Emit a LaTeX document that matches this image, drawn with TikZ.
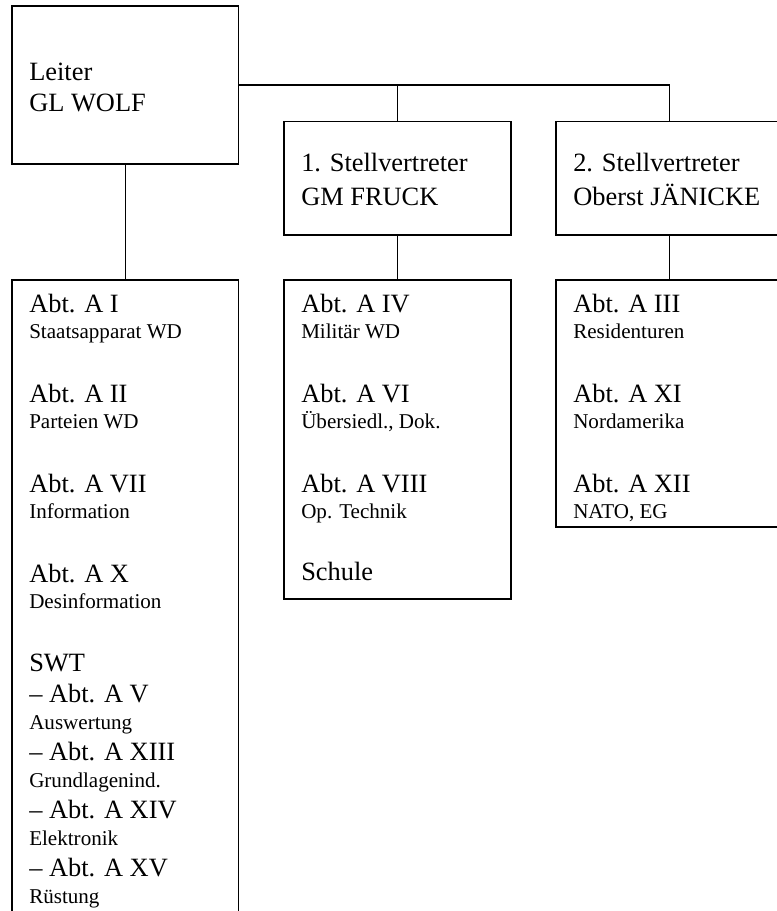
\documentclass[tikz,border=0pt]{standalone}
\usepackage{fontspec}
\newfontfamily\serifx{Liberation Serif}
\tikzset{
  box/.style={draw, line width=0.9pt, inner sep=0pt, outer sep=0pt},
  conn/.style={draw, line width=0.9pt},
  bigt/.style={anchor=base west, inner sep=0pt, font=\serifx\fontsize{19.8pt}{22pt}\selectfont},
  smallt/.style={anchor=base west, inner sep=0pt, font=\serifx\fontsize{15.8pt}{18pt}\selectfont}
}
\begin{document}
\begin{tikzpicture}[x=0.75pt,y=-0.75pt]
\useasboundingbox (0,0) rectangle (777,911);
\clip (0,0) rectangle (777,911);
% boxes
\node[box, minimum width=226.5*0.75pt, minimum height=158*0.75pt] (leiter) at (125.25,85) {};
\node[box, minimum width=227*0.75pt, minimum height=113.3*0.75pt] (dep1) at (397.5,178.35) {};
\node[box, minimum width=227*0.75pt, minimum height=113.3*0.75pt] (dep2) at (669.5,178.35) {};
\node[box, minimum width=226.5*0.75pt, minimum height=660*0.75pt] (listL) at (125.25,610) {};
\node[box, minimum width=227*0.75pt, minimum height=319*0.75pt] (listM) at (397.5,439.5) {};
\node[box, minimum width=227*0.75pt, minimum height=247*0.75pt] (listR) at (669.5,403.5) {};
% connectors
\draw[conn] (leiter.east) -| (dep2.north);
\draw[conn] (dep1.north) -- (dep1.north |- leiter.east);
\draw[conn] (leiter.south) -- (listL.north);
\draw[conn] (dep1.south) -- (listM.north);
\draw[conn] (dep2.south) -- (listR.north);
% head texts
\node[bigt] (t01) at (29,80) {Leiter};
\node[bigt] (t02) at (29,111.7) {GL WOLF};
\node[bigt] (t03) at (301,171.7) {1. Stellvertreter};
\node[bigt] (t04) at (301,205) {GM FRUCK};
\node[bigt] (t05) at (573,171.7) {2. Stellvertreter};
\node[bigt] (t06) at (573,205) {Oberst JÄNICKE};
% left list
\node[bigt] (l01) at (29,312.3) {Abt. A I};
\node[smallt] (l02) at (29,338.5) {Staatsapparat WD};
\node[bigt] (l03) at (29,402) {Abt. A II};
\node[smallt] (l04) at (29,428.5) {Parteien WD};
\node[bigt] (l05) at (29,492) {Abt. A VII};
\node[smallt] (l06) at (29,518.5) {Information};
\node[bigt] (l07) at (29,582) {Abt. A X};
\node[smallt] (l08) at (29,608.5) {Desinformation};
\node[bigt] (l09) at (29,671) {SWT};
\node[bigt] (l10) at (29,702) {– Abt. A V};
\node[smallt] (l11) at (29,729) {Auswertung};
\node[bigt] (l12) at (29,760) {– Abt. A XIII};
\node[smallt] (l13) at (29,787) {Grundlagenind.};
\node[bigt] (l14) at (29,818) {– Abt. A XIV};
\node[smallt] (l15) at (29,845) {Elektronik};
\node[bigt] (l16) at (29,876) {– Abt. A XV};
\node[smallt] (l17) at (29,903) {Rüstung};
% middle list
\node[bigt] (m01) at (301,312.3) {Abt. A IV};
\node[smallt] (m02) at (301,338.5) {Militär WD};
\node[bigt] (m03) at (301,402) {Abt. A VI};
\node[smallt] (m04) at (301,428.5) {Übersiedl., Dok.};
\node[bigt] (m05) at (301,492) {Abt. A VIII};
\node[smallt] (m06) at (301,518.5) {Op. Technik};
\node[bigt] (m07) at (301,580) {Schule};
% right list
\node[bigt] (r01) at (573,312.3) {Abt. A III};
\node[smallt] (r02) at (573,338.5) {Residenturen};
\node[bigt] (r03) at (573,402) {Abt. A XI};
\node[smallt] (r04) at (573,428.5) {Nordamerika};
\node[bigt] (r05) at (573,492) {Abt. A XII};
\node[smallt] (r06) at (573,518.5) {NATO, EG};
\end{tikzpicture}
\end{document}
